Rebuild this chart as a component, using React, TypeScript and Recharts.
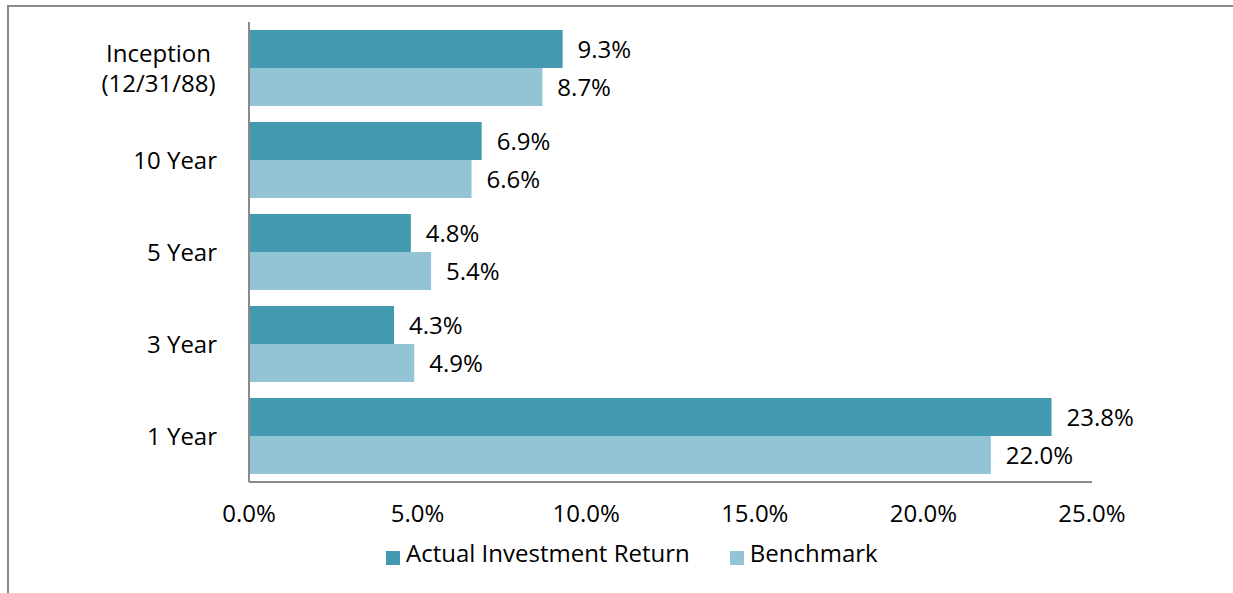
import React from "react";
import { BarChart, Bar, XAxis, YAxis, LabelList } from "recharts";

const categories = ["Inception\n(12/31/88)", "10 Year", "5 Year", "3 Year", "1 Year"];
const actualReturn = [9.3, 6.9, 4.8, 4.3, 23.8];
const benchmark = [8.7, 6.6, 5.4, 4.9, 22.0];
const xTicks = [0, 5, 10, 15, 20, 25];
const seriesNames = ["Actual Investment Return", "Benchmark"];

const DARK = "#4399B0";
const LIGHT = "#93C4D5";
const AXIS = "#8a8a8a";
const FONT = "'Open Sans', sans-serif";

const data = categories.map((c, i) => ({
  name: c,
  actual: actualReturn[i],
  bench: benchmark[i],
}));

const fmt = (v: number) => `${Number(v).toFixed(1)}%`;

const YTick = (props: any) => {
  const { x, y, payload } = props;
  const lines = String(payload.value).split("\n");
  if (lines.length === 1) {
    return (
      <text x={x} y={y} textAnchor="end" dy="0.355em" fontSize={24} fontFamily={FONT} fill="#000">
        {lines[0]}
      </text>
    );
  }
  const cx = x - 58.5;
  return (
    <text x={cx} y={y} textAnchor="middle" fontSize={24} fontFamily={FONT} fill="#000">
      {lines.map((l, i) => (
        <tspan key={i} x={cx} y={y - 6.4 + i * 30}>
          {l}
        </tspan>
      ))}
    </text>
  );
};

const LegendBlock = () => {
  const colors = [DARK, LIGHT];
  return (
    <div
      style={{
        position: "absolute",
        left: 386,
        top: 537,
        display: "flex",
        fontFamily: FONT,
        fontSize: 24,
        lineHeight: "32px",
        color: "#000",
      }}
    >
      {seriesNames.map((n, i) => (
        <div key={n} style={{ display: "flex", alignItems: "flex-start", marginRight: i === 0 ? 40 : 0 }}>
          <div style={{ width: 14, height: 14, background: colors[i], marginTop: 14, marginRight: 6 }} />
          <span style={{ whiteSpace: "nowrap" }}>{n}</span>
        </div>
      ))}
    </div>
  );
};

export default function App() {
  return (
    <div style={{ position: "absolute", left: 0, top: 0, width: 1233, height: 593, background: "#fff" }}>
      <div
        style={{
          position: "absolute",
          left: 7,
          top: 5,
          width: 1226,
          height: 588,
          borderTop: `2px solid ${AXIS}`,
          borderLeft: `2px solid ${AXIS}`,
          boxSizing: "border-box",
        }}
      />
      <div style={{ position: "absolute", left: 0, top: 0 }}>
        <BarChart
          width={1233}
          height={593}
          data={data}
          layout="vertical"
          margin={{ top: 22, right: 141, bottom: 0, left: 0 }}
          barCategoryGap={8}
          barGap={0}
        >
          <XAxis
            type="number"
            domain={[0, 25]}
            ticks={xTicks}
            tickFormatter={fmt}
            axisLine={{ stroke: AXIS, strokeWidth: 2 }}
            tickLine={false}
            tickMargin={17}
            tick={{ fontSize: 24, fontFamily: FONT, fill: "#000" }}
            height={111}
            interval={0}
          />
          <YAxis
            type="category"
            dataKey="name"
            width={249}
            axisLine={{ stroke: AXIS, strokeWidth: 2 }}
            tickLine={false}
            tickMargin={26}
            tick={<YTick />}
            interval={0}
          />
          <Bar dataKey="actual" name={seriesNames[0]} fill={DARK} isAnimationActive={false}>
            <LabelList
              dataKey="actual"
              position="right"
              offset={15}
              formatter={fmt}
              style={{ fontSize: 24, fontFamily: FONT, fill: "#000" }}
            />
          </Bar>
          <Bar dataKey="bench" name={seriesNames[1]} fill={LIGHT} isAnimationActive={false}>
            <LabelList
              dataKey="bench"
              position="right"
              offset={15}
              formatter={fmt}
              style={{ fontSize: 24, fontFamily: FONT, fill: "#000" }}
            />
          </Bar>
        </BarChart>
      </div>
      <LegendBlock />
    </div>
  );
}
